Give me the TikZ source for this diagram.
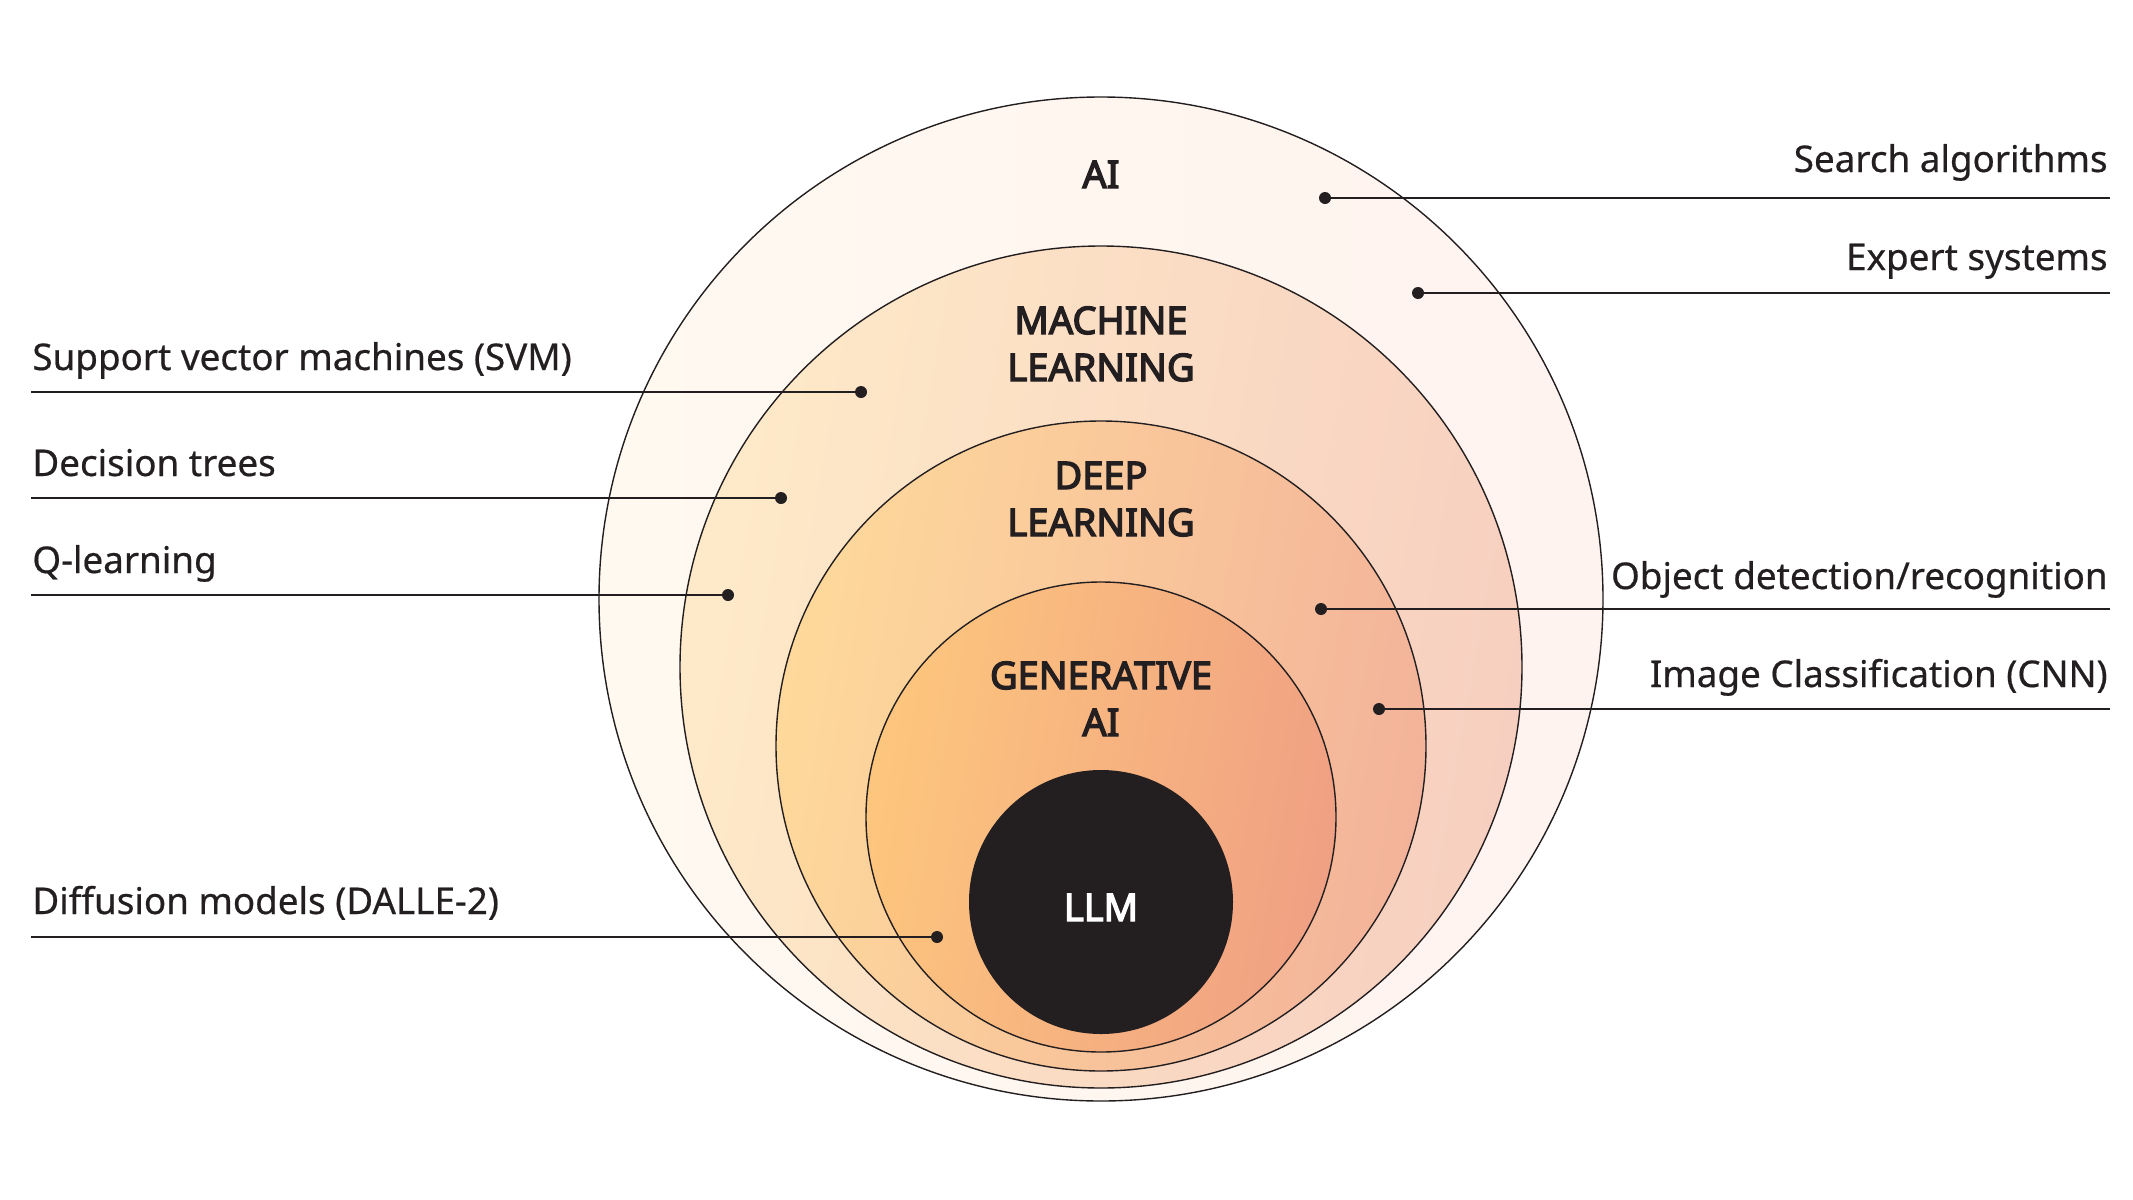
\documentclass[tikz,border=0pt]{standalone}
\usepackage{fontspec}
\setmainfont{Noto Sans}[FakeBold=0.5]
\newfontfamily\titlefont{Noto Sans}[FakeBold=3.6]
\definecolor{ink}{HTML}{231F20}
\definecolor{aiL}{HTML}{FFF9F0}
\definecolor{aiR}{HTML}{FFF3EF}
\definecolor{mlL}{HTML}{FEEAC8}
\definecolor{mlR}{HTML}{F7CFC0}
\definecolor{dlL}{HTML}{FED99B}
\definecolor{dlR}{HTML}{F3B39A}
\definecolor{gaL}{HTML}{FDC67D}
\definecolor{gaR}{HTML}{F0A083}
\begin{document}
\begin{tikzpicture}[x=0.5pt,y=-0.5pt,
  ring/.style={draw=ink,line width=0.7pt},
  dotnode/.style={circle,fill=ink,inner sep=0pt,minimum size=6pt},
  conn/.style={draw=ink,line width=1.15pt},
  side/.style={font=\fontsize{18.4}{22}\selectfont,text=ink,inner sep=0pt},
  title/.style={font=\titlefont\fontsize{19}{23}\selectfont,text=ink,inner sep=0pt,anchor=base}]
\useasboundingbox (0,0) rectangle (2133,1200);
\fill[white] (0,0) rectangle (2133,1200);
% circles
\path[ring,left color=aiL,right color=aiR] (1101,599) circle[radius=502];
\path[ring,left color=mlL,right color=mlR,shading angle=80] (1101,667) circle[radius=421];
\path[ring,left color=dlL,right color=dlR,shading angle=80] (1101,746) circle[radius=325];
\path[ring,left color=gaL,right color=gaR,shading angle=80] (1101,817) circle[radius=235];
\fill[ink] (1101,902) circle[radius=132];
% titles
\node[title] (tAI) at (1101,188) {AI};
\node[title] (tML1) at (1101,334) {MACHINE};
\node[title] (tML2) at (1101,381) {LEARNING};
\node[title] (tDL1) at (1101,489) {DEEP};
\node[title] (tDL2) at (1101,536) {LEARNING};
\node[title] (tGA1) at (1101,689) {GENERATIVE};
\node[title] (tGA2) at (1101,736) {AI};
\node[title,text=white] (tLLM) at (1101,921) {LLM};
% left labels
\node[side,anchor=base west] (lSVM) at (32,370) {Support vector machines (SVM)};
\node[side,anchor=base west] (lDT) at (32,476) {Decision trees};
\node[side,anchor=base west] (lQL) at (32,573) {Q-learning};
\node[side,anchor=base west] (lDM) at (32,914) {Diffusion models (DALLE-2)};
% right labels
\node[side,anchor=base east] (rSA) at (2108,172) {Search algorithms};
\node[side,anchor=base east] (rES) at (2108,270) {Expert systems};
\node[side,anchor=base east] (rOD) at (2108,589) {Object detection/recognition};
\node[side,anchor=base east] (rIC) at (2108,687) {Image Classification (CNN)};
% dots and ends
\node[dotnode] (dSVM) at (861,392) {};
\node[dotnode] (dDT) at (781,498) {};
\node[dotnode] (dQL) at (728,595) {};
\node[dotnode] (dDM) at (937,937) {};
\node[dotnode] (dSA) at (1325,198) {};
\node[dotnode] (dES) at (1418,293) {};
\node[dotnode] (dOD) at (1321,609) {};
\node[dotnode] (dIC) at (1379,709) {};
\coordinate (eSVM) at (31,392);
\coordinate (eDT) at (31,498);
\coordinate (eQL) at (31,595);
\coordinate (eDM) at (31,937);
\coordinate (eSA) at (2110,198);
\coordinate (eES) at (2110,293);
\coordinate (eOD) at (2110,609);
\coordinate (eIC) at (2110,709);
\foreach \n in {SVM,DT,QL,DM,SA,ES,OD,IC}
  \draw[conn] (d\n.center) -- (e\n);
\end{tikzpicture}
\end{document}
